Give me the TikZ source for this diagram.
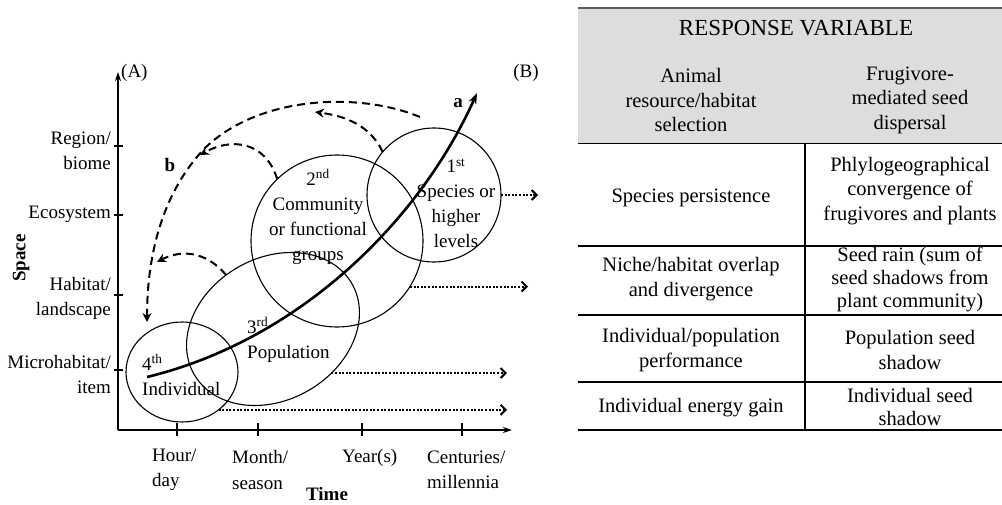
\documentclass[tikz,border=0pt]{standalone}
\usepackage{fontspec}
\setmainfont{Liberation Serif}
\usetikzlibrary{arrows.meta,shapes.geometric}

\begin{document}
\begin{tikzpicture}[x=1pt,y=-1pt,
  lbl/.style={font=\fontsize{19}{25}\selectfont,inner sep=0pt},
  cell/.style={font=\fontsize{20.5}{24.5}\selectfont,align=center,inner sep=0pt},
  axis/.style={line width=1.6pt,-{Stealth[length=9pt,width=6pt]}},
  lvl/.style={draw,line width=1.1pt,inner sep=0pt,outer sep=0pt},
  growth/.style={line width=2.6pt,-{Stealth[length=11pt,width=8pt]}},
  dashback/.style={line width=2pt,dash pattern=on 8pt off 5pt,-{Stealth[length=9pt,width=9pt,inset=3pt]}},
  dotfwd/.style={line width=2pt,dash pattern=on 2pt off 1.6pt,-{Straight Barb[length=5pt,width=10pt]}},
  rule/.style={line width=1.2pt}]
  \useasboundingbox (0,0) rectangle (1002,505);
  \clip (0,0) rectangle (1002,505);

  % axes
  \coordinate (O) at (118,430);
  \coordinate (ytop) at (118,72);
  \coordinate (xend) at (512,430);
  \draw[axis] (O) -- (ytop);
  \draw[axis] (O) -- (xend);
  \node[lbl,anchor=west] (A) at (121,73) {(A)};
  \node[lbl] (B) at (526,73) {(B)};
  \foreach \y in {146,215,295,370} \draw[line width=1.2pt] (114,\y) -- (123,\y);
  \foreach \x in {177,258,362,462} \draw[line width=1.2pt] (\x,423) -- (\x,436);

  % space and time labels
  \node[lbl,align=right,anchor=east] (region) at (111,151) {Region/\\biome};
  \node[lbl,anchor=east] (ecosys) at (111,214) {Ecosystem};
  \node[lbl,align=right,anchor=east] (habitat) at (111,298) {Habitat/\\landscape};
  \node[lbl,align=right,anchor=east] (micro) at (111,375) {Microhabitat/\\item};
  \node[lbl,align=left,anchor=west] (hour) at (152,470) {Hour/\\day};
  \node[lbl,align=left,anchor=west] (month) at (232,470) {Month/\\season};
  \node[lbl,anchor=west] (year) at (342,458) {Year(s)};
  \node[lbl,align=left,anchor=west] (century) at (427,470) {Centuries/\\millennia};
  \node[lbl,font=\fontsize{19}{25}\selectfont\bfseries] (time) at (327,494) {Time};
  \node[lbl,font=\fontsize{19}{25}\selectfont\bfseries,rotate=90] (space) at (21,258) {Space};

  % levels
  \node[lvl,ellipse,minimum width=112pt,minimum height=100pt] (fourth) at (182,372) {};
  \node[lvl,ellipse,rotate=30,minimum width=182pt,minimum height=142pt] (third) at (273,329) {};
  \node[lvl,circle,minimum size=172pt] (second) at (337,241) {};
  \node[lvl,circle,minimum size=134pt] (first) at (434,195) {};
  \node[lbl,align=left,anchor=west] (fourthtxt) at (142,375) {4\textsuperscript{th}\\Individual};
  \node[lbl,align=left,anchor=west] (thirdtxt) at (247,340) {3\textsuperscript{rd}\\Population};
  \node[lbl,align=center] (secondtxt) at (318,217) {2\textsuperscript{nd}\\Community\\or functional\\groups};
  \node[lbl,align=center] (firsttxt) at (456,203) {1\textsuperscript{st}\\Species or\\higher\\levels};

  % curve a
  \coordinate (cstart) at (147,377);
  \coordinate (ctip) at (477,93);
  \draw[growth] (cstart) .. controls (300,340) and (420,220) .. (ctip);
  \node[lbl,font=\fontsize{19}{25}\selectfont\bfseries] (a) at (458,103) {a};

  % feedback b
  \coordinate (bstart) at (420,117);
  \coordinate (bmid) at (205,148);
  \coordinate (btip) at (147,322);
  \draw[dashback] (bstart) .. controls (360,92) and (260,95) .. (bmid)
    .. controls (160,195) and (147,260) .. (btip);
  \node[lbl,font=\fontsize{19}{25}\selectfont\bfseries] (b) at (170,165) {b};
  \coordinate (t2) at (315,112);
  \coordinate (t3) at (200,155);
  \coordinate (t4) at (157,262);
  \draw[dashback] (first.140) .. controls (370,125) and (345,116) .. (t2);
  \draw[dashback] (second.134) .. controls (265,140) and (230,138) .. (t3);
  \draw[dashback] (third.101) .. controls (205,250) and (180,250) .. (t4);

  % persistence in time
  \coordinate (e1) at (538,193);
  \coordinate (e2) at (528,287);
  \coordinate (e3) at (507,372);
  \coordinate (e4) at (507,412);
  \draw[dotfwd] (first.east) -- (first.east -| e1);
  \draw[dotfwd] (second.-32) -- (second.-32 -| e2);
  \draw[dotfwd] (third.-67) -- (third.-67 -| e3);
  \draw[dotfwd] (fourth.-46) -- (fourth.-46 -| e4);

  % table
  \node[fill=gray!27,minimum width=437pt,minimum height=135pt,anchor=north west,inner sep=0pt] (head) at (578,8) {};
  \draw[gray!70!black,line width=1.2pt] (head.north west) -- (head.north east);
  \draw[rule] (head.south west) -- (head.south east);
  \foreach \y in {246,315,382,430} \draw[rule] (578,\y) -- (1015,\y);
  \draw[rule] (805,143) -- (805,430);
  \node[cell,font=\fontsize{23}{27}\selectfont] (resp) at (796,28) {RESPONSE VARIABLE};
  \node[cell] (colA) at (691,100) {Animal\\resource/habitat\\selection};
  \node[cell] (colB) at (910,100) {Frugivore-\\mediated seed\\dispersal};
  \node[cell] (r1a) at (691,198) {Species persistence};
  \node[cell] (r1b) at (910,191) {Phlylogeographical\\convergence of\\frugivores and plants};
  \node[cell] (r2a) at (691,279) {Niche/habitat overlap\\and divergence};
  \node[cell,font=\fontsize{20.5}{23}\selectfont] (r2b) at (910,279) {Seed rain (sum of\\seed shadows from\\plant community)};
  \node[cell] (r3a) at (691,350) {Individual/population\\performance};
  \node[cell] (r3b) at (910,350) {Population seed\\shadow};
  \node[cell] (r4a) at (691,408) {Individual energy gain};
  \node[cell,font=\fontsize{20.5}{23}\selectfont] (r4b) at (910,407) {Individual seed\\shadow};
\end{tikzpicture}
\end{document}
